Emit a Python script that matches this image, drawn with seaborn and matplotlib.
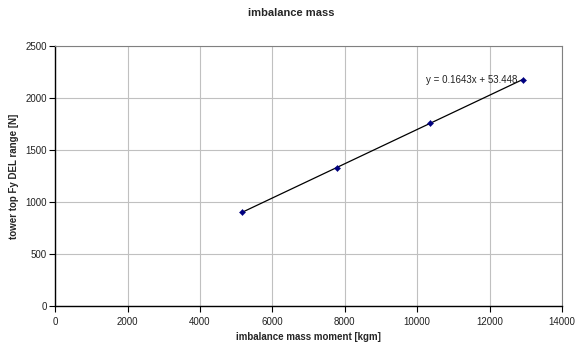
import matplotlib
matplotlib.use("Agg")
from matplotlib import pyplot as plt
import numpy as np
import pandas as pd
import seaborn as sns

# values
moment = [5150, 7770, 10350, 12920]        # imbalance mass moment [kgm]
fy_range = [900, 1330, 1755, 2175]         # tower top Fy DEL range [N]
slope = 0.1643
intercept = 53.448
x_ticks = [0, 2000, 4000, 6000, 8000, 10000, 12000, 14000]
y_ticks = [0, 500, 1000, 1500, 2000, 2500]

df = pd.DataFrame({"moment": moment, "fy": fy_range})
trend_x = np.array([min(moment), max(moment)])
trend = pd.DataFrame({"moment": trend_x, "fy": slope * trend_x + intercept})

sns.set_style("white")
plt.rcParams["font.family"] = ["Liberation Sans", "DejaVu Sans"]

fig = plt.figure(figsize=(5.82, 3.46), dpi=100)
ax = fig.add_axes([0.095, 0.1147, 0.8706, 0.7533])

sns.lineplot(data=trend, x="moment", y="fy", color="black", linewidth=0.9, ax=ax, zorder=3)
sns.scatterplot(data=df, x="moment", y="fy", marker="D", s=10, color="#000080",
                edgecolor="#000080", ax=ax, zorder=4)

ax.set_xlim(x_ticks[0], x_ticks[-1])
ax.set_ylim(y_ticks[0], y_ticks[-1])
ax.set_xticks(x_ticks)
ax.set_yticks(y_ticks)
ax.grid(True, color="#c0c0c0", linewidth=0.8)
ax.set_axisbelow(True)

for side in ["left", "bottom"]:
    ax.spines[side].set_color("black")
    ax.spines[side].set_linewidth(1.0)
for side in ["top", "right"]:
    ax.spines[side].set_color("#808080")
    ax.spines[side].set_linewidth(0.8)

ax.tick_params(axis="both", which="major", bottom=True, left=True, direction="out",
               length=4, width=0.8, color="black", labelsize=7, pad=2, labelcolor="#222222")
ax.tick_params(axis="x", pad=4)

ax.set_xlabel("imbalance mass moment [kgm]", fontsize=7, fontweight="bold", labelpad=3)
ax.set_ylabel("tower top Fy DEL range [N]", fontsize=7, fontweight="bold", labelpad=5)
fig.suptitle("imbalance mass", fontsize=8, fontweight="bold", x=0.5, y=0.962, va="center")

ax.text(12780, 2175, f"y = {slope}x + {intercept}", fontsize=7, ha="right", va="center",
        color="#222222")

fig.savefig("out.png", dpi=100)
